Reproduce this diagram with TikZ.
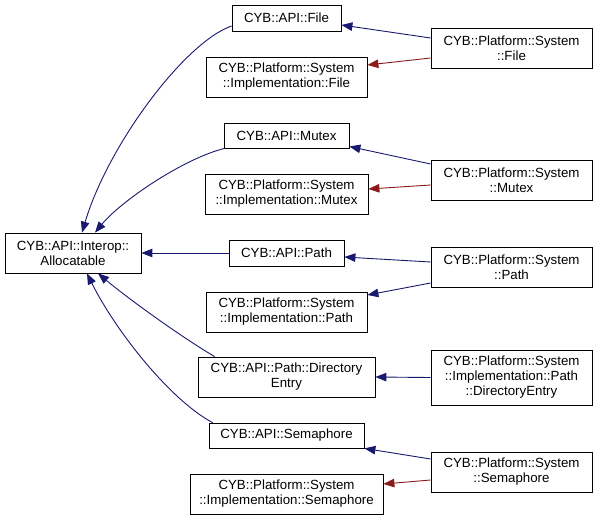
\documentclass[tikz,border=0pt]{standalone}
\usepackage{fontspec}
\setmainfont{Liberation Sans}
\usetikzlibrary{arrows.meta}
\definecolor{eblue}{HTML}{191970}
\definecolor{ered}{HTML}{8B1A1A}
\begin{document}
\begin{tikzpicture}[x=1pt,y=-1pt,
  box/.style={draw=black, line width=0.8pt, fill=white, inner sep=0pt, align=center,
    font=\fontsize{13.3}{15}\selectfont},
  inh/.style={draw=eblue, line width=0.9pt, -{Triangle[length=11pt,width=8.5pt]}},
  priv/.style={draw=ered, line width=0.9pt, -{Triangle[length=11pt,width=8.5pt]}}]
\useasboundingbox (0,0) rectangle (597,520);
% left
\node[box, minimum width=136pt, minimum height=40pt] (alloc) at (73,253) {CYB::API::Interop::\\Allocatable};
% middle
\node[box, minimum width=109pt, minimum height=26pt] (apifile) at (286.5,18) {CYB::API::File};
\node[box, minimum width=161pt, minimum height=40pt] (implfile) at (286.5,77) {CYB::Platform::System\\::Implementation::File};
\node[box, minimum width=125pt, minimum height=25pt] (apimutex) at (286.5,135.5) {CYB::API::Mutex};
\node[box, minimum width=163pt, minimum height=40pt] (implmutex) at (286.5,194) {CYB::Platform::System\\::Implementation::Mutex};
\node[box, minimum width=115pt, minimum height=26pt] (apipath) at (286.5,253) {CYB::API::Path};
\node[box, minimum width=161pt, minimum height=40pt] (implpath) at (286.5,312) {CYB::Platform::System\\::Implementation::Path};
\node[box, minimum width=177pt, minimum height=40pt] (apidir) at (286.5,377) {CYB::API::Path::Directory\\Entry};
\node[box, minimum width=155pt, minimum height=25pt] (apisem) at (286.5,435.5) {CYB::API::Semaphore};
\node[box, minimum width=193pt, minimum height=40pt] (implsem) at (286.5,494) {CYB::Platform::System\\::Implementation::Semaphore};
% right
\node[box, minimum width=161pt, minimum height=40pt] (sysfile) at (511.5,48) {CYB::Platform::System\\::File};
\node[box, minimum width=161pt, minimum height=40pt] (sysmutex) at (511.5,180) {CYB::Platform::System\\::Mutex};
\node[box, minimum width=161pt, minimum height=40pt] (syspath) at (511.5,267) {CYB::Platform::System\\::Path};
\node[box, minimum width=161pt, minimum height=55pt] (sysdir) at (511.5,377.5) {CYB::Platform::System\\::Implementation::Path\\::DirectoryEntry};
\node[box, minimum width=161pt, minimum height=40pt] (syssem) at (511.5,472) {CYB::Platform::System\\::Semaphore};
% right edges
\draw[inh] ([yshift=10pt]sysfile.west) -- ([yshift=-7pt]apifile.east);
\draw[priv] ([yshift=-10pt]sysfile.west) -- ([yshift=12pt]implfile.east);
\draw[inh] ([yshift=16pt]sysmutex.west) -- ([yshift=-11pt]apimutex.east);
\draw[priv] ([yshift=-5pt]sysmutex.west) -- ([yshift=5pt]implmutex.east);
\draw[inh] ([yshift=5pt]syspath.west) -- ([yshift=-4pt]apipath.east);
\draw[inh] ([yshift=-16pt]syspath.west) -- ([yshift=17pt]implpath.east);
\draw[inh] (sysdir.west) -- (apidir.east);
\draw[inh] ([yshift=13pt]syssem.west) -- (apisem.south east);
\draw[priv] ([yshift=-8pt]syssem.west) -- ([yshift=10pt]implsem.east);
% left edges
\draw[inh] (apipath.west) -- (alloc.east);
\draw[inh] ([yshift=-8pt]apifile.west) .. controls (185,42) and (108,145) .. ([xshift=9pt]alloc.north);
\draw[inh] ([xshift=1pt]apimutex.south west) .. controls (185,158) and (122,200) .. ([xshift=22pt]alloc.north);
\draw[inh] ([xshift=17pt]apidir.north west) .. controls (180,336) and (130,300) .. ([xshift=25pt]alloc.south);
\draw[inh] ([xshift=4pt]apisem.north west) .. controls (170,400) and (115,330) .. ([xshift=14pt]alloc.south);
\end{tikzpicture}
\end{document}
